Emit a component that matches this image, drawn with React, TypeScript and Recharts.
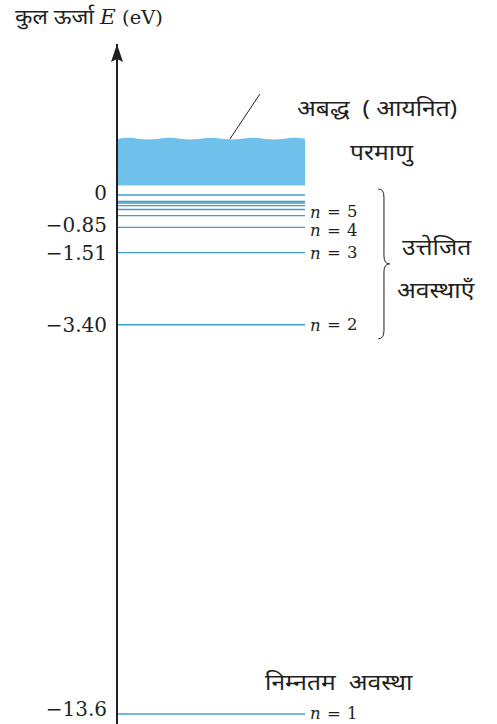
import { ComposedChart, XAxis, YAxis, ReferenceLine, ReferenceArea } from "recharts";

// hydrogen atom energy levels (eV)
const levelN = [1, 2, 3, 4, 5, 6, 7, 8, 9];
const levelEnergy = [-13.6, -3.4, -1.51, -0.85, -0.54, -0.38, -0.28, -0.21, -0.17];
const limitEnergy = 0;
const labelledN = [1, 2, 3, 4, 5];
const labelDy = [-1, 0, 0, 3, -4];

const tickValues = [0, -0.85, -1.51, -3.4, -13.6];
const tickLabels = ["0", "−0.85", "−1.51", "−3.40", "−13.6"];
const tickDy = [-2, -2, 0, 0, -5];

const continuumRange = [0.25, 1.49]; // unbound (ionised) band
const excitedRange = [-3.4, 0];

const LINE = "#3d9fcb";
const SHADE = "#6fc1eb";
const INK = "#231f20";
const SERIF = "'DejaVu Serif', serif";
const DEVA = "'Noto Sans', 'Noto Sans Devanagari', sans-serif";

const W = 497;
const H = 724;

function ArrowHead(props: any) {
  const vb = props.viewBox;
  const ax = vb.x + vb.width;
  const ty = vb.y;
  return (
    <path
      d={`M${ax},${ty} L${ax + 6},${ty + 18} L${ax},${ty + 15} L${ax - 6},${ty + 18} Z`}
      fill={INK}
    />
  );
}

function TickLabel(props: any) {
  const { x, y, payload } = props;
  const i = tickValues.indexOf(payload.value);
  return (
    <text
      x={x - 2}
      y={y + (tickDy[i] ?? 0)}
      textAnchor="end"
      dominantBaseline="central"
      fontFamily={SERIF}
      fontSize={20}
      fill={INK}
    >
      {tickLabels[i] ?? ""}
    </text>
  );
}

function LevelLabel(props: any) {
  const { viewBox, n, dy } = props;
  return (
    <text
      x={viewBox.x + viewBox.width + 5}
      y={viewBox.y + dy}
      dominantBaseline="central"
      fontFamily={SERIF}
      fontSize={16.5}
      fill={INK}
      xmlSpace="preserve"
      wordSpacing={1}
    >
      <tspan fontStyle="italic">n</tspan>
      {" = " + n}
    </text>
  );
}

function Continuum(props: any) {
  const { x, y, width, height } = props;
  const bumps = 9;
  let d = `M${x},${y + height} L${x},${y + 1}`;
  for (let i = 1; i <= bumps; i++) {
    const xm = x + (width * (i - 0.5)) / bumps;
    const xe = x + (width * i) / bumps;
    d += ` Q${xm},${y + (i % 2 ? -1.5 : 2)} ${xe},${y + 0.5}`;
  }
  d += ` L${x + width},${y + height} Z`;
  const lx = x + width * 0.6;
  return (
    <g>
      <path d={d} fill={SHADE} />
      <line x1={lx} y1={y + 1} x2={lx + 30} y2={y - 44} stroke={INK} strokeWidth={1} />
    </g>
  );
}

function Brace(props: any) {
  const { x, y, width, height } = props;
  const x0 = x;
  const x1 = x + width;
  const xc = (x0 + x1) / 2;
  const yT = y - 6;
  const yB = y + height + 14;
  const yM = (yT + yB) / 2;
  const r = 8;
  const d =
    `M${x0},${yT} Q${xc},${yT} ${xc},${yT + r} L${xc},${yM - r} Q${xc},${yM} ${x1},${yM}` +
    ` Q${xc},${yM} ${xc},${yM + r} L${xc},${yB - r} Q${xc},${yB} ${x0},${yB}`;
  return <path d={d} fill="none" stroke={INK} strokeWidth={1} />;
}

const textStyle = (left: number, top: number, size = 22, sx = 1.12): React.CSSProperties => ({
  position: "absolute",
  left,
  top,
  fontFamily: DEVA,
  fontSize: size,
  color: INK,
  whiteSpace: "pre",
  lineHeight: 1,
  transform: `scaleX(${sx})`,
  transformOrigin: "left top",
});

export default function App() {
  return (
    <div style={{ position: "relative", width: W, height: H, overflow: "hidden", background: "#fff" }}>
      <style>{"body{margin:0;overflow:hidden}"}</style>
      <ComposedChart width={W} height={H} margin={{ top: 44, right: 192, bottom: 0, left: 0 }} data={[]}>
        <XAxis type="number" dataKey="x" domain={[0, 1]} hide allowDataOverflow />
        <YAxis
          type="number"
          domain={[-13.862, 3.957]}
          allowDataOverflow
          width={117}
          ticks={tickValues}
          interval={0}
          tickLine={false}
          axisLine={{ stroke: INK, strokeWidth: 2 }}
          tick={<TickLabel />}
          label={{ content: ArrowHead }}
        />
        <ReferenceArea
          y1={continuumRange[0]}
          y2={continuumRange[1]}
          x1={0}
          x2={1}
          ifOverflow="visible"
          shape={Continuum}
        />
        <ReferenceLine y={limitEnergy} stroke={LINE} strokeWidth={1.3} ifOverflow="visible" />
        {levelN.map((n, i) => {
          const li = labelledN.indexOf(n);
          return (
            <ReferenceLine
              key={n}
              y={levelEnergy[i]}
              stroke={LINE}
              strokeWidth={1.3}
              ifOverflow="visible"
              label={li >= 0 ? { content: (p: any) => <LevelLabel {...p} n={n} dy={labelDy[li]} /> } : undefined}
            />
          );
        })}
        <ReferenceArea
          y1={excitedRange[0]}
          y2={excitedRange[1]}
          x1={1.39}
          x2={1.45}
          ifOverflow="visible"
          shape={Brace}
        />
      </ComposedChart>

      <div style={textStyle(15, 6, 21, 1.08)}>
        {"कुल ऊर्जा "}
        <span style={{ fontFamily: SERIF, fontStyle: "italic", fontSize: 20 }}>E</span>
        <span style={{ fontFamily: SERIF, fontSize: 18 }}> (eV)</span>
      </div>
      <div style={textStyle(297, 96, 22, 1.12)}>{"अबद्ध  ( आयनित)"}</div>
      <div style={textStyle(350, 140, 22, 1.12)}>परमाणु</div>
      <div style={textStyle(402, 235, 22, 1.12)}>उत्तेजित</div>
      <div style={textStyle(397, 278, 22, 1.12)}>अवस्थाएँ</div>
      <div style={textStyle(265, 670, 22, 1.12)}>{"निम्नतम  अवस्था"}</div>
    </div>
  );
}
